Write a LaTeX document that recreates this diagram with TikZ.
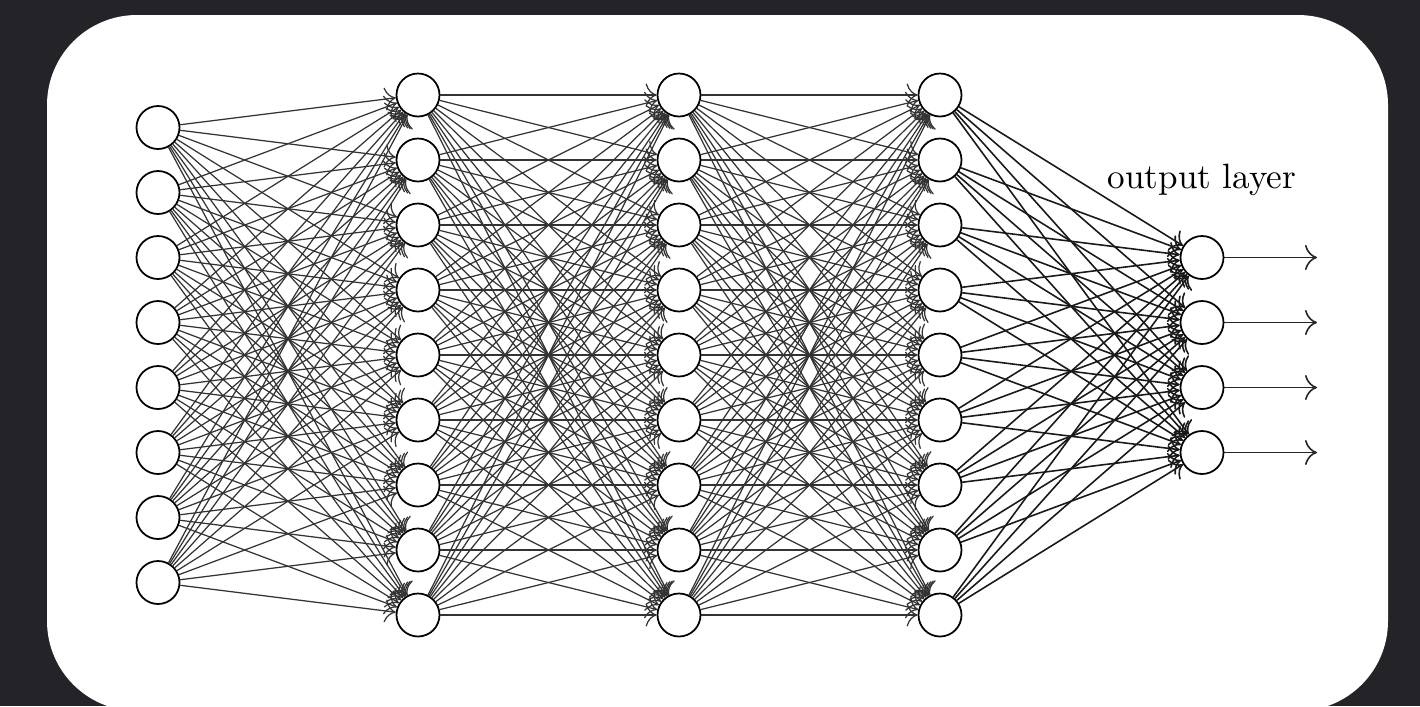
\documentclass[tikz,border=0pt]{standalone}
\usepackage{xcolor}
\usepackage{tikz}
\usetikzlibrary{arrows.meta}
\definecolor{framebg}{HTML}{232328}

\begin{document}
\begin{tikzpicture}[
    neuron/.style={circle, draw=black, line width=0.5pt, fill=white, minimum size=0.43cm, inner sep=0pt},
    synapse/.style={-{To[length=1.1mm]}, draw=black!80, line width=0.35pt},
    lastsynapse/.style={-{To[length=1.1mm]}, draw=black!90, line width=0.45pt},
    outarrow/.style={-{To[length=1.2mm]}, draw=black!85, line width=0.45pt},
    layerlabel/.style={font=\normalsize}
]

% Frame
\useasboundingbox (0,0) rectangle (14.2,7.06);
\fill[framebg] (0,0) rectangle (14.2,7.06);
\fill[white, rounded corners=0.9cm] (0.47,-0.05) rectangle (13.88,6.91);

% Input layer
\foreach \i in {1,...,8}
    \node[neuron] (I-\i) at (1.58, {3.51+(4.5-\i)*0.65}) {};

% Hidden layers
\foreach \l/\x in {1/4.18, 2/6.79, 3/9.40}
    \foreach \i in {1,...,9}
        \node[neuron] (H\l-\i) at (\x, {3.51+(5-\i)*0.65}) {};

% Output layer
\foreach \i in {1,...,4}
    \node[neuron] (O-\i) at (12.02, {3.51+(2.5-\i)*0.65}) {};
\node[layerlabel] (outlabel) at (12.02, 5.26) {output layer};

% Connections
\foreach \i in {1,...,8}
    \foreach \j in {1,...,9}
        \draw[synapse] (I-\i) -- (H1-\j);
\foreach \l/\m in {1/2, 2/3}
    \foreach \i in {1,...,9}
        \foreach \j in {1,...,9}
            \draw[synapse] (H\l-\i) -- (H\m-\j);
\foreach \i in {1,...,9}
    \foreach \j in {1,...,4}
        \draw[lastsynapse] (H3-\i) -- (O-\j);

% Outputs
\foreach \i in {1,...,4} {
    \coordinate (Y-\i) at (13.17, {3.51+(2.5-\i)*0.65});
    \draw[outarrow] (O-\i) -- (Y-\i);
}

\end{tikzpicture}
\end{document}
